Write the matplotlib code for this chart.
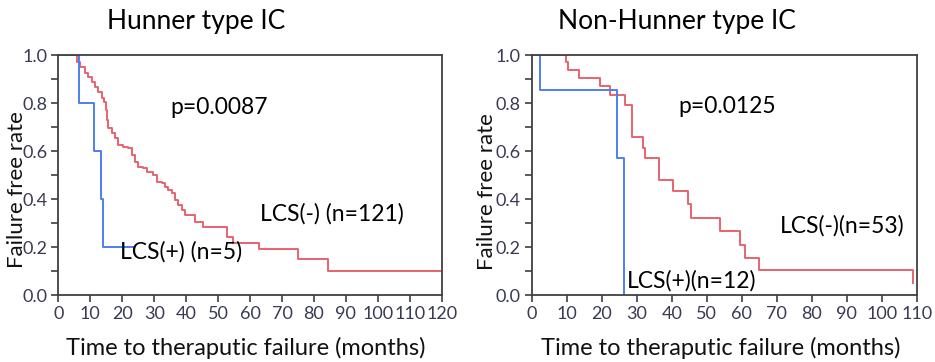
import matplotlib
matplotlib.use("Agg")
import matplotlib.pyplot as plt
from matplotlib.ticker import MultipleLocator

plt.rcParams['font.family'] = ['Lato', 'DejaVu Sans']

RED = '#e8636c'
BLUE = '#4d7ff0'
GREY = '#404040'

# Hunner type IC
hic_neg_t = [0, 5.7, 6.8, 8.3, 9.4, 10.4, 11.5, 12.5, 13.6, 14.3, 14.9, 15.2, 15.6, 16.7,
             17.7, 18.8, 20.3, 21.9, 23.0, 24.0, 25.0, 26.6, 27.6, 29.7, 30.8, 32.3, 33.4,
             34.4, 35.5, 36.5, 37.6, 38.6, 39.6, 42.8, 45.4, 52.7, 54.8, 62.7, 74.9, 84.5, 120]
hic_neg_s = [1.0, 0.97, 0.951, 0.924, 0.91, 0.889, 0.868, 0.847, 0.82, 0.806, 0.77, 0.73,
             0.694, 0.674, 0.653, 0.625, 0.618, 0.611, 0.583, 0.556, 0.535, 0.528, 0.514,
             0.5, 0.472, 0.465, 0.451, 0.4375, 0.424, 0.396, 0.375, 0.354, 0.333, 0.306,
             0.285, 0.243, 0.218, 0.19, 0.15, 0.102, 0.102]
hic_pos_t = [0, 6.5, 11.2, 13.5, 14.1, 23.5]
hic_pos_s = [1.0, 0.8, 0.6, 0.4, 0.2, 0.2]

# Non-Hunner type IC
nhic_neg_t = [0, 9.8, 10.5, 13.6, 19.5, 22.4, 26.7, 28.6, 31.8, 32.4, 36.5, 40.5, 44.6,
              45.6, 53.7, 59.6, 60.8, 64.9, 108.9, 109.0]
nhic_neg_s = [1.0, 0.972, 0.9375, 0.903, 0.87, 0.833, 0.79, 0.657, 0.612, 0.569, 0.479,
              0.435, 0.38, 0.323, 0.268, 0.21, 0.155, 0.104, 0.05, 0.05]
nhic_pos_t = [0, 2.4, 24.4, 26.4, 26.45]
nhic_pos_s = [1.0, 0.854, 0.569, 0.0, 0.0]

fig = plt.figure(figsize=(9.35, 3.62), dpi=100)
ax1 = fig.add_axes([0.0624, 0.185, 0.410, 0.663])
ax2 = fig.add_axes([0.5687, 0.185, 0.4118, 0.663])

panels = [
    (ax1, hic_neg_t, hic_neg_s, hic_pos_t, hic_pos_s, 120),
    (ax2, nhic_neg_t, nhic_neg_s, nhic_pos_t, nhic_pos_s, 110),
]

for ax, nt, ns, pt, ps, xmax in panels:
    ax.step(nt, ns, where='post', color=RED, lw=1.4)
    ax.step(pt, ps, where='post', color=BLUE, lw=1.4)
    ax.set_xlim(0, xmax)
    ax.set_ylim(0, 1.0)
    ax.xaxis.set_major_locator(MultipleLocator(10))
    ax.yaxis.set_major_locator(MultipleLocator(0.2))
    ax.yaxis.set_minor_locator(MultipleLocator(0.1))
    ax.yaxis.set_major_formatter(plt.FuncFormatter(lambda v, p: f'{v:.1f}'))
    ax.tick_params(which='both', direction='out', color=GREY, width=1.2, labelsize=13,
                   labelcolor='#3a3a55', length=5, pad=3)
    for sp in ax.spines.values():
        sp.set_color(GREY)
        sp.set_linewidth(1.3)
    ax.set_xlabel('Time to theraputic failure (months)', fontsize=17, color='#111111')
    ax.set_ylabel('Failure free rate', fontsize=16, color='#111111')
    ax.xaxis.set_label_coords(0.49, -0.175)

ax1.yaxis.set_label_coords(-0.082, 0.44)
ax2.yaxis.set_label_coords(-0.09, 0.43)

ax1.text(35, 0.78, 'p=0.0087', fontsize=16.5, va='center')
ax1.text(63, 0.34, 'LCS(-) (n=121)', fontsize=16.5, va='center')
ax1.text(19.3, 0.18, 'LCS(+) (n=5)', fontsize=16.5, va='center')

ax2.text(41.9, 0.785, 'p=0.0125', fontsize=16.5, va='center')
ax2.text(71, 0.29, 'LCS(-)(n=53)', fontsize=16.5, va='center')
ax2.text(27.2, 0.06, 'LCS(+)(n=12)', fontsize=16.5, va='center')

fig.text(196 / 935, 1 - 22 / 362, 'Hunner type IC', fontsize=19, ha='center', va='center')
fig.text(677 / 935, 1 - 22 / 362, 'Non-Hunner type IC', fontsize=19, ha='center', va='center')

fig.savefig('out.png', dpi=100)
